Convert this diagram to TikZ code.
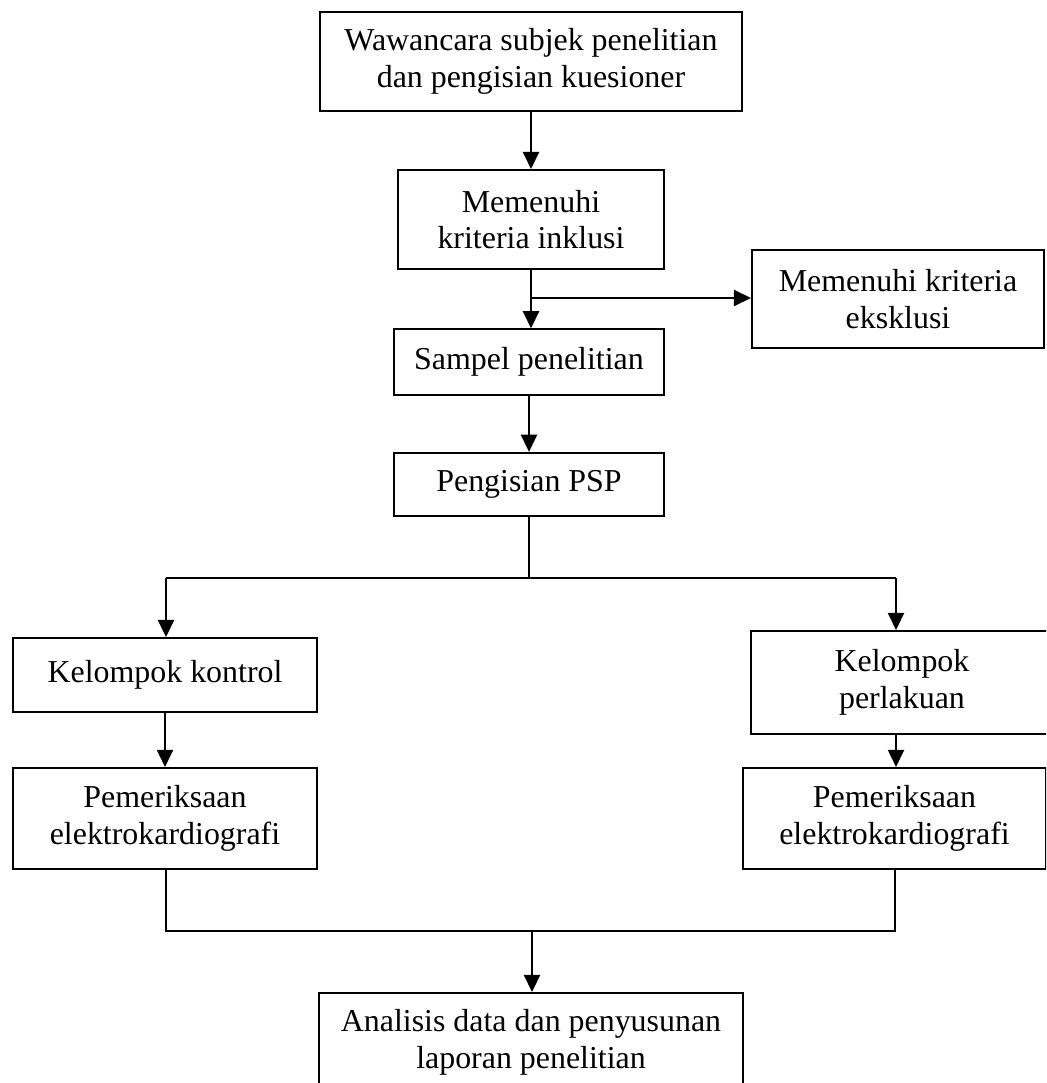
\documentclass[tikz,border=0pt]{standalone}
\usepackage{fontspec}
\setmainfont{Liberation Serif}
\usetikzlibrary{arrows.meta, positioning, calc}

\begin{document}
\begin{tikzpicture}[
    x=0.376pt, y=-0.376pt,
    box/.style={draw, line width=0.7pt, align=center, inner sep=0pt,
        font=\fontsize{12}{13.8}\selectfont},
    arrow/.style={line width=1pt, -{Triangle[length=6.5pt,width=6pt]}},
    link/.style={line width=0.45pt}
]
\useasboundingbox (0,0) rectangle (1046,1083);
\clip (0,0) rectangle (1046,1083);

% Boxes
\node[box, minimum width=158.7pt, minimum height=37.2pt] (wawancara) at (531,61.5)
    {Wawancara subjek penelitian\\dan pengisian kuesioner};
\node[box, minimum width=100pt, minimum height=37.2pt] (inklusi) at (531,219.5)
    {Memenuhi\\kriteria inklusi};
\node[box, minimum width=109.8pt, minimum height=36.8pt] (eksklusi) at (898,299)
    {Memenuhi kriteria\\eksklusi};
\node[box, minimum width=101.5pt, minimum height=24.6pt] (sampel) at (529,362)
    {Sampel penelitian};
\node[box, minimum width=101.5pt, minimum height=23.8pt] (psp) at (529,484.5)
    {Pengisian PSP};
\node[box, minimum width=114.3pt, minimum height=27.8pt] (kontrol) at (165,675)
    {Kelompok kontrol};
\node[box, minimum width=113.6pt, minimum height=38.7pt] (perlakuan) at (902,682.5)
    {Kelompok\\perlakuan};
\node[box, minimum width=114.3pt, minimum height=38pt] (ekgA) at (165,818.5)
    {Pemeriksaan\\elektrokardiografi};
\node[box, minimum width=113.9pt, minimum height=38pt] (ekgB) at (894.5,818.5)
    {Pemeriksaan\\elektrokardiografi};
\node[box, minimum width=159.4pt, minimum height=37.2pt] (analisis) at (531,1042.5)
    {Analisis data dan penyusunan\\laporan penelitian};

% Branch points
\coordinate (split) at (531,298);
\coordinate (forkL) at (166,578);
\coordinate (forkR) at (896,578);
\coordinate (joinL) at (166,931);
\coordinate (joinR) at (895,931);
\coordinate (join) at (532,931);

% Arrows
\draw[arrow] (wawancara) -- (inklusi);
\draw[arrow] (inklusi.south) -- (inklusi.south |- sampel.north);
\draw[arrow] (split) -- (split -| eksklusi.west);
\draw[arrow] (sampel) -- (psp);
\draw[link] (psp.south) -- (psp.south |- forkL);
\draw[line width=0.7pt] (forkL) -- (forkR);
\draw[arrow] (forkL) -- (forkL |- kontrol.north);
\draw[arrow] (forkR) -- (forkR |- perlakuan.north);
\draw[arrow] (kontrol) -- (ekgA);
\draw[arrow] (forkR |- perlakuan.south) -- (forkR |- ekgB.north);
\draw[link] (joinL |- ekgA.south) -- (joinL) -- (joinR) -- (joinR |- ekgB.south);
\draw[arrow] (join) -- (join |- analisis.north);

\end{tikzpicture}
\end{document}
